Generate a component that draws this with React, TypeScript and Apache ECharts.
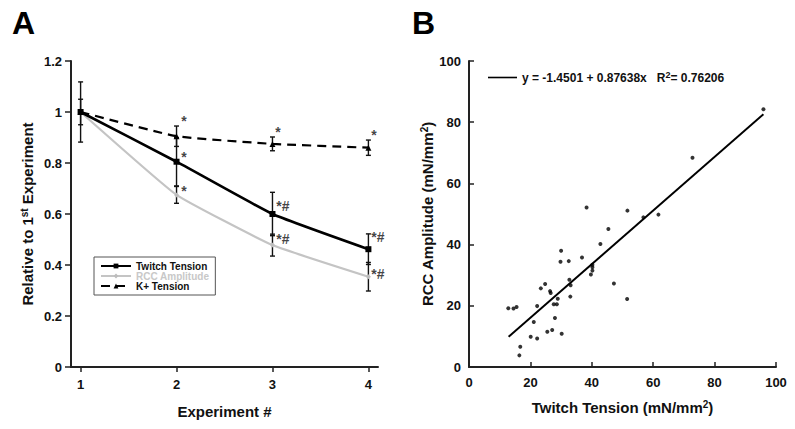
import React, { useEffect, useRef } from "react";
import * as echarts from "echarts";

// Panel A data
const experiments = [1, 2, 3, 4];
const twitchMean = [1, 0.805, 0.6, 0.462];
const twitchErr = [0.118, 0.095, 0.085, 0.06];
const rccMean = [1, 0.675, 0.478, 0.354];
const rccErr = [0.05, 0.033, 0.043, 0.056];
const kMean = [1, 0.905, 0.875, 0.86];
const kErr = [0, 0.04, 0.027, 0.03];
const xTicksA = [1, 2, 3, 4];

const annotX = [2.05, 2.05, 2.05, 3.03, 3.04, 3.04, 4.03, 4.03, 4.03];
const annotY = [0.965, 0.825, 0.69, 0.922, 0.632, 0.503, 0.91, 0.508, 0.366];
const annotText = ["*", "*", "*", "*", "*#", "*#", "*", "*#", "*#"];

// Panel B data
const twitchTension = [
  38.3, 51.6, 56.8, 61.7, 45.4, 42.8, 30.0, 36.8, 29.8, 32.5, 40.2, 40.2, 40.2, 39.7,
  32.7, 33.1, 24.8, 23.4, 26.4, 26.6, 47.2, 33.0, 28.9, 51.5, 22.2, 27.6, 28.6, 12.8,
  14.5, 15.5, 28.0, 21.1, 25.5, 27.1, 30.2, 20.1, 22.2, 16.7, 16.4, 95.9, 72.8,
];
const rccAmplitude = [
  52.1, 51.1, 48.9, 49.8, 45.1, 40.2, 38.0, 35.8, 34.4, 34.6, 33.4, 32.6, 31.5, 30.2,
  28.5, 26.7, 27.1, 25.7, 24.8, 24.2, 27.3, 23.0, 22.3, 22.2, 19.9, 20.5, 20.5, 19.2,
  19.1, 19.6, 16.0, 14.7, 11.5, 12.1, 10.9, 9.9, 9.3, 6.6, 3.8, 84.2, 68.4,
];
const fitIntercept = -1.4501;
const fitSlope = 0.87638;
const fitR2 = 0.76206;
const fitXRange = [12.9, 95.9];

const FONT = "'Liberation Sans', Arial, Helvetica, sans-serif";

export default function App() {
  const ref = useRef<HTMLDivElement>(null);

  useEffect(() => {
    if (!ref.current) return;
    const chart = echarts.init(ref.current, undefined, { renderer: "svg" });

    const errData = (means: number[], errs: number[]) =>
      experiments
        .map((x, i) => [x, means[i] - errs[i], means[i] + errs[i], errs[i]])
        .filter((d) => d[3] > 0);

    const renderErr = (params: any, api: any) => {
      const x = api.value(0);
      const lo = api.coord([x, api.value(1)]);
      const hi = api.coord([x, api.value(2)]);
      const w = 2.5;
      const st = { stroke: "#111", lineWidth: 1.4 };
      return {
        type: "group",
        children: [
          { type: "line", shape: { x1: lo[0], y1: lo[1], x2: hi[0], y2: hi[1] }, style: st },
          { type: "line", shape: { x1: lo[0] - w, y1: lo[1], x2: lo[0] + w, y2: lo[1] }, style: st },
          { type: "line", shape: { x1: hi[0] - w, y1: hi[1], x2: hi[0] + w, y2: hi[1] }, style: st },
        ],
      };
    };

    const pair = (xs: number[], ys: number[]) => xs.map((x, i) => [x, ys[i]]);

    const axisLine = { lineStyle: { color: "#222", width: 2 } };
    const labelStyle = { color: "#111", fontSize: 13, fontWeight: "bold", fontFamily: FONT };
    const nameStyle = { color: "#111", fontSize: 15, fontWeight: "bold", fontFamily: FONT };
    const supRich = { sup: { fontSize: 9, fontWeight: "bold", verticalAlign: "top", padding: [0, 0, 6, 0], color: "#111", fontFamily: FONT } };

    const option: any = {
      animation: false,
      textStyle: { fontFamily: FONT },
      title: [
        { text: "A", left: 7, top: 2, textStyle: { fontSize: 32, fontWeight: "bold", color: "#000", fontFamily: FONT } },
        { text: "B", left: 407, top: 2, textStyle: { fontSize: 32, fontWeight: "bold", color: "#000", fontFamily: FONT } },
      ],
      grid: [
        { left: 71, right: 417, top: 61, bottom: 62 },
        { left: 469, right: 19, top: 61, bottom: 62 },
      ],
      legend: [
        {
          orient: "vertical",
          left: 94,
          top: 257,
          padding: [4, 6, 4, 6],
          itemGap: 0,
          itemWidth: 30,
          itemHeight: 6,
          borderColor: "#555",
          borderWidth: 1,
          textStyle: { fontSize: 10, fontWeight: "bold", color: "#111", fontFamily: FONT },
          data: [
            { name: "Twitch Tension" },
            { name: "RCC Amplitude", textStyle: { color: "#c8c8c8" } },
            { name: "K+ Tension" },
          ],
        },
        {
          left: 483,
          top: 65,
          itemWidth: 29,
          itemHeight: 1.6,
          icon: "rect",
          textStyle: { fontSize: 12, fontWeight: "bold", color: "#111", fontFamily: FONT, rich: supRich },
          formatter: () => `y = ${fitIntercept} + ${fitSlope}x   R{sup|2}= ${fitR2}`,
          data: [{ name: "fit" }],
        },
      ],
      xAxis: [
        {
          type: "value",
          gridIndex: 0,
          min: 0.9,
          max: 4.1,
          splitLine: { show: false },
          axisLine: { ...axisLine, onZero: false },
          axisTick: { show: true, customValues: xTicksA, length: 5, lineStyle: { color: "#222", width: 1.5 } },
          axisLabel: { customValues: xTicksA, margin: 11, ...labelStyle },
          name: "Experiment #",
          nameLocation: "middle",
          nameGap: 37,
          nameTextStyle: nameStyle,
        },
        {
          type: "value",
          gridIndex: 1,
          min: 0,
          max: 100,
          interval: 20,
          splitLine: { show: false },
          axisLine: { ...axisLine, onZero: false },
          axisTick: { show: true, inside: true, length: 5, lineStyle: { color: "#222", width: 1.5 } },
          axisLabel: { margin: 9, ...labelStyle },
          name: "Twitch Tension (mN/mm{sup|2})",
          nameLocation: "middle",
          nameGap: 32,
          nameTextStyle: { ...nameStyle, rich: { sup: { ...supRich.sup, fontSize: 10 } } },
        },
      ],
      yAxis: [
        {
          type: "value",
          gridIndex: 0,
          min: 0,
          max: 1.2,
          interval: 0.2,
          splitLine: { show: false },
          axisLine: { ...axisLine, onZero: false },
          axisTick: { show: true, length: 6, lineStyle: { color: "#222", width: 1.5 } },
          axisLabel: { margin: 9, ...labelStyle },
          name: "Relative to 1{sup|st} Experiment",
          nameLocation: "middle",
          nameGap: 36,
          nameTextStyle: { ...nameStyle, rich: { sup: { ...supRich.sup, fontSize: 10 } } },
        },
        {
          type: "value",
          gridIndex: 1,
          min: 0,
          max: 100,
          interval: 20,
          splitLine: { show: false },
          axisLine: { ...axisLine, onZero: false },
          axisTick: { show: true, inside: true, length: 5, lineStyle: { color: "#222", width: 1.5 } },
          axisLabel: { margin: 8, ...labelStyle },
          name: "RCC Amplitude (mN/mm{sup|2})",
          nameLocation: "middle",
          nameGap: 34,
          nameTextStyle: { ...nameStyle, rich: { sup: { ...supRich.sup, fontSize: 10 } } },
        },
      ],
      series: [
        { type: "custom", xAxisIndex: 0, yAxisIndex: 0, renderItem: renderErr, data: errData(twitchMean, twitchErr), z: 1, silent: true },
        { type: "custom", xAxisIndex: 0, yAxisIndex: 0, renderItem: renderErr, data: errData(rccMean, rccErr), z: 1, silent: true },
        { type: "custom", xAxisIndex: 0, yAxisIndex: 0, renderItem: renderErr, data: errData(kMean, kErr), z: 1, silent: true },
        {
          name: "RCC Amplitude",
          type: "line",
          xAxisIndex: 0,
          yAxisIndex: 0,
          smooth: 0.12,
          data: pair(experiments, rccMean),
          symbol: "diamond",
          symbolSize: 5,
          lineStyle: { color: "#c4c4c4", width: 2.2 },
          itemStyle: { color: "#bdbdbd" },
          z: 2,
        },
        {
          name: "Twitch Tension",
          type: "line",
          xAxisIndex: 0,
          yAxisIndex: 0,
          smooth: 0.12,
          data: pair(experiments, twitchMean),
          symbol: "rect",
          symbolSize: 6,
          lineStyle: { color: "#000", width: 2.6 },
          itemStyle: { color: "#000" },
          z: 3,
        },
        {
          name: "K+ Tension",
          type: "line",
          xAxisIndex: 0,
          yAxisIndex: 0,
          smooth: 0.12,
          data: pair(experiments, kMean),
          symbol: "triangle",
          symbolSize: 6,
          lineStyle: { color: "#000", width: 2.2, type: [9, 6] },
          itemStyle: { color: "#000" },
          z: 3,
        },
        {
          type: "scatter",
          xAxisIndex: 0,
          yAxisIndex: 0,
          silent: true,
          symbolSize: 0,
          data: annotX.map((x, i) => [x, annotY[i], annotText[i]]),
          label: {
            show: true,
            position: "right",
            distance: 0,
            formatter: (p: any) => p.value[2],
            fontSize: 14,
            fontWeight: "bold",
            color: "#111",
            fontFamily: FONT,
          },
          z: 4,
        },
        {
          type: "scatter",
          xAxisIndex: 1,
          yAxisIndex: 1,
          data: pair(twitchTension, rccAmplitude),
          symbol: "circle",
          symbolSize: 4,
          itemStyle: { color: "#000" },
          z: 3,
        },
        {
          name: "fit",
          type: "line",
          xAxisIndex: 1,
          yAxisIndex: 1,
          data: fitXRange.map((x) => [x, fitIntercept + fitSlope * x]),
          symbol: "none",
          lineStyle: { color: "#000", width: 2 },
          itemStyle: { color: "#000" },
          z: 2,
        },
      ],
    };

    chart.setOption(option);
    return () => chart.dispose();
  }, []);

  return (
    <div
      ref={ref}
      style={{ position: "fixed", left: 0, top: 0, width: 795, height: 429, background: "#fff" }}
    />
  );
}
